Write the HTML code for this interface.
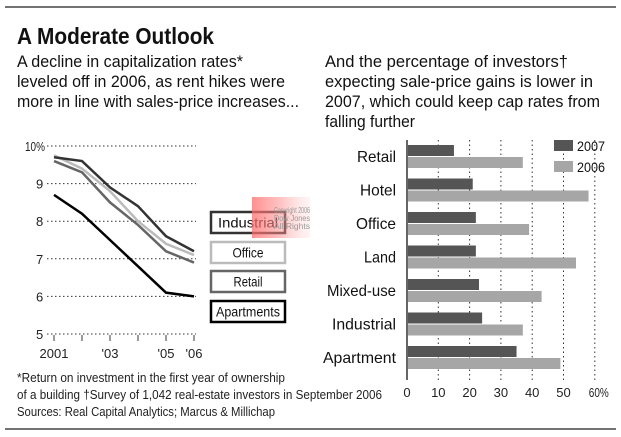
<!DOCTYPE html>
<html><head><meta charset="utf-8"><style>
html,body{margin:0;padding:0;background:#fff}
svg{display:block;font-family:"Liberation Sans",sans-serif}
</style></head><body>
<svg width="621" height="437" viewBox="0 0 621 437">
<defs><linearGradient id="wm" x1="0" x2="1"><stop offset="0" stop-color="#ff6b6b" stop-opacity="0.75"/><stop offset="0.5" stop-color="#ff8888" stop-opacity="0.5"/><stop offset="1" stop-color="#ffcccc" stop-opacity="0.2"/></linearGradient></defs>
<line x1="5" y1="7" x2="616" y2="7" stroke="#444" stroke-width="1.5"/>
<line x1="5" y1="429" x2="616" y2="429" stroke="#444" stroke-width="1.5"/>
<text x="17" y="44" font-size="23" font-weight="bold" fill="#111" textLength="197" lengthAdjust="spacingAndGlyphs">A Moderate Outlook</text>
<g font-size="17" fill="#111" lengthAdjust="spacingAndGlyphs">
<text x="17" y="67" textLength="226" lengthAdjust="spacingAndGlyphs">A decline in capitalization rates*</text>
<text x="17" y="87" textLength="268" lengthAdjust="spacingAndGlyphs">leveled off in 2006, as rent hikes were</text>
<text x="17" y="107" textLength="282" lengthAdjust="spacingAndGlyphs">more in line with sales-price increases...</text>
</g>
<g font-size="17" fill="#111">
<text x="325" y="67" textLength="243" lengthAdjust="spacingAndGlyphs">And the percentage of investors†</text>
<text x="325" y="87" textLength="268" lengthAdjust="spacingAndGlyphs">expecting sale-price gains is lower in</text>
<text x="325" y="107" textLength="275" lengthAdjust="spacingAndGlyphs">2007, which could keep cap rates from</text>
<text x="325" y="127" textLength="90" lengthAdjust="spacingAndGlyphs">falling further</text>
</g>
<g id="line"></g>
<g id="bar"></g>
<rect x="252" y="197" width="58" height="41" fill="url(#wm)"/>
<g font-size="8" fill="#999">
<text x="274" y="213" textLength="36" lengthAdjust="spacingAndGlyphs">Copyright 2006</text><text x="274" y="221" textLength="36" lengthAdjust="spacingAndGlyphs">Dow Jones</text><text x="274" y="229" textLength="36" lengthAdjust="spacingAndGlyphs">All Rights</text></g>
<g font-size="12.5" fill="#222">
<text x="17" y="382" textLength="268" lengthAdjust="spacingAndGlyphs">*Return on investment in the first year of ownership</text>
<text x="17" y="399" textLength="365" lengthAdjust="spacingAndGlyphs">of a building    †Survey of 1,042 real-estate investors in September 2006</text>
<text x="17" y="416" textLength="258" lengthAdjust="spacingAndGlyphs">Sources: Real Capital Analytics; Marcus &amp; Millichap</text>
</g>
</svg>
<script>
const NS="http://www.w3.org/2000/svg";
function mk(p,t,a,txt){const e=document.createElementNS(NS,t);for(const k in a)e.setAttribute(k,a[k]);if(txt!=null)e.textContent=txt;p.appendChild(e);return e;}
// line chart data
const years=[2001,2002,2003,2004,2005,2006];
const yearLabels=["2001","","'03","","'05","'06"];
const yTicks=[5,6,7,8,9,10];
const industrial=[9.7,9.6,8.9,8.4,7.6,7.2];
const office=[9.75,9.4,8.8,8.0,7.4,7.1];
const retail=[9.6,9.3,8.5,7.9,7.2,6.9];
const apartments=[8.7,8.2,7.5,6.8,6.1,6.0];
// bar chart data
const categories=["Retail","Hotel","Office","Land","Mixed-use","Industrial","Apartment"];
const v2007=[15,21,22,22,23,24,35];
const v2006=[37,58,39,54,43,37,49];
const xTicks=[0,10,20,30,40,50,60];

const L=document.getElementById('line');
const xs=y=>54+(y-2001)*28, ys=v=>334-(v-5)*37.6;
yTicks.forEach(t=>{
 const g=mk(L,'line',{x1:47,x2:196,y1:ys(t),y2:ys(t),stroke:'#333','stroke-dasharray':'1.5,2.5','stroke-width':1});
 
 
 const tx=mk(L,'text',{x:t==10?25:36,y:ys(t)+5,'font-size':13,fill:'#222'},t==10?'10%':String(t));
 if(t==10){tx.setAttribute('textLength','20');tx.setAttribute('lengthAdjust','spacingAndGlyphs');}
 
 
});
years.forEach((y,i)=>{
 const tk=mk(L,'line',{x1:xs(y),x2:xs(y),y1:ys(5)+1,y2:ys(5)+7,stroke:'#333','stroke-width':1});
 
 
 if(yearLabels[i]){const tx=mk(L,'text',{x:xs(y),y:358,'font-size':13,fill:'#222','text-anchor':'middle'},yearLabels[i]);
 
 }
});
const series=[[retail,'#666','retail-line'],[office,'#bbb','office-line'],[industrial,'#333','industrial-line'],[apartments,'#000','apartments-line']];
series.forEach(([d,c,n])=>{
 const p=mk(L,'polyline',{points:d.map((v,i)=>xs(years[i])+','+ys(v)).join(' '),fill:'none',stroke:c,'stroke-width':2.5});
 
 
});
const leg=[['Industrial','#333',212,60],['Office','#bbb',242,31],['Retail','#666',271,29],['Apartments','#000',301,64]];
leg.forEach(([t,c,y,w])=>{
 const r=mk(L,'rect',{x:211,y:y,width:74,height:21,fill:'#fff',stroke:c,'stroke-width':2.5});
 
 
 const tx=mk(L,'text',{x:248,y:y+15.5,'font-size':14,fill:'#111','text-anchor':'middle',textLength:w,lengthAdjust:'spacingAndGlyphs'},t);
 
 
});

const B=document.getElementById('bar');
const bx=v=>407+v*3.13, rowY=i=>145+i*33.5;
const labW=[39,36,40,32,69,64,73];
xTicks.forEach(t=>{
 if(t>0){const g=mk(B,'line',{x1:bx(t),x2:bx(t),y1:140,y2:380,stroke:'#333','stroke-dasharray':'1.5,3','stroke-width':1});
 
 }
 const tx=mk(B,'text',{x:bx(t)+(t==60?4:0),y:397,'font-size':13,fill:'#222','text-anchor':'middle'},t==60?'60%':String(t));
 if(t==60){tx.setAttribute('textLength','20');tx.setAttribute('lengthAdjust','spacingAndGlyphs');}
 
 
});
categories.forEach((c,i)=>{
 const y=rowY(i);
 const w=mk(B,'rect',{x:407,y:y,width:bx(v2006[i])-407,height:11,fill:'#a6a6a6',transform:'translate(0,12)'});
 
 
 const d=mk(B,'rect',{x:407,y:y,width:bx(v2007[i])-407,height:11,fill:'#555'});
 
 
 const tx=mk(B,'text',{x:396,y:y+17,'font-size':16,fill:'#111','text-anchor':'end',textLength:labW[i],lengthAdjust:'spacingAndGlyphs'},c);
 
 
});
const ax=mk(B,'line',{x1:407,x2:407,y1:140,y2:380,stroke:'#666','stroke-width':2});


[['2007','#555',140],['2006','#a6a6a6',161]].forEach(([t,c,y])=>{
 const r=mk(B,'rect',{x:554,y:y,width:19,height:11,fill:c});
 
 
 const tx=mk(B,'text',{x:577,y:y+11,'font-size':14,fill:'#111',textLength:28,lengthAdjust:'spacingAndGlyphs'},t);
 
 
});
</script>
</body></html>
